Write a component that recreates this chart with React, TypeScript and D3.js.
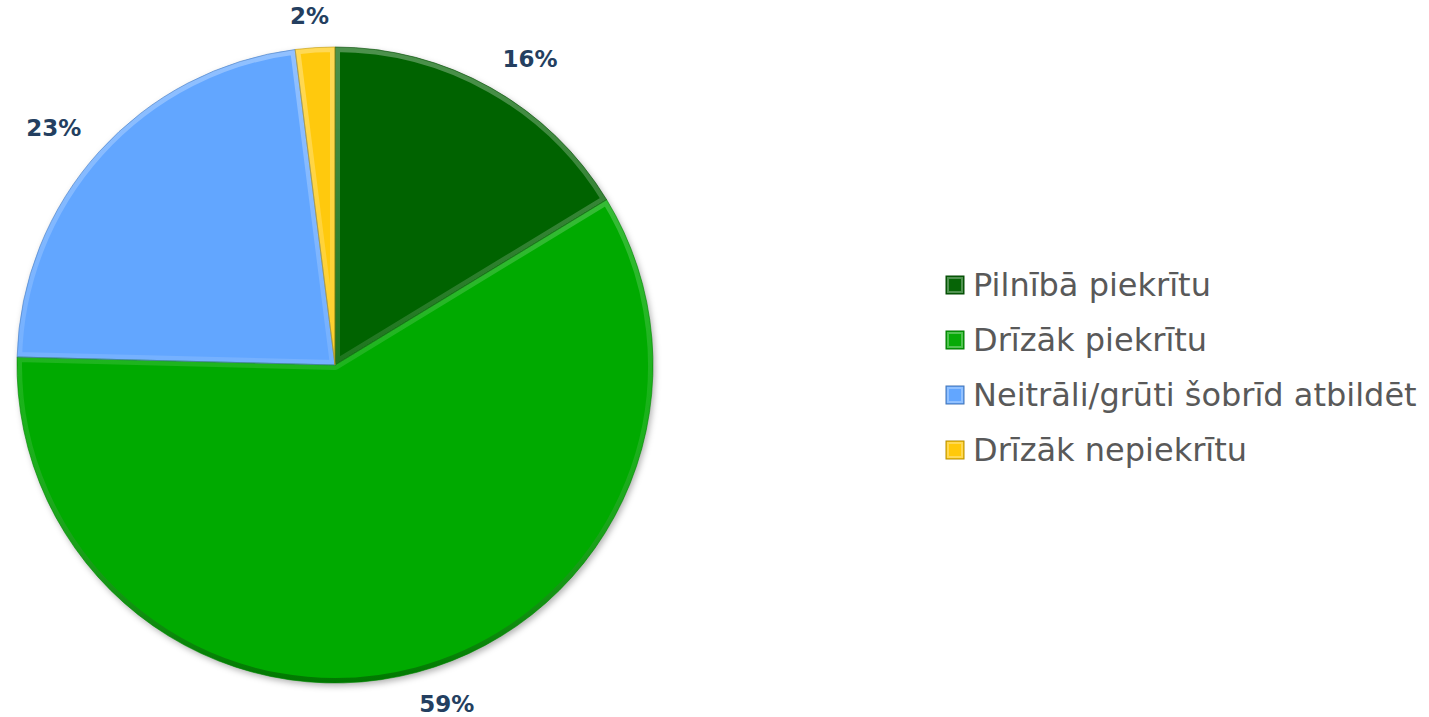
import React, { useEffect, useRef } from 'react';
import * as d3 from 'd3';

const categories = ['Pilnībā piekrītu', 'Drīzāk piekrītu', 'Neitrāli/grūti šobrīd atbildēt', 'Drīzāk nepiekrītu'];
const values = [16.3, 59.1, 22.6, 2.0];
const colors = ['#066406', '#06AA06', '#62A6FF', '#FFC90A'];

export default function App() {
  const svgRef = useRef<SVGSVGElement>(null);

  useEffect(() => {
    const svg = d3.select(svgRef.current);
    svg.selectAll('*').remove();

    const width = 1429;
    const height = 717;
    const cx = 335;
    const cy = 365;
    const radius = 318;

    svg.attr('viewBox', `0 0 ${width} ${height}`);

    const data = values.map((v, i) => ({ name: categories[i], value: v, color: colors[i] }));
    const pie = d3.pie<any>().sort(null).value(d => d.value);
    const arcs = pie(data);
    const arc = d3.arc<any>().innerRadius(0).outerRadius(radius);

    const defs = svg.append('defs');
    const shadow = defs.append('filter').attr('id', 'shadow')
      .attr('x', '-10%').attr('y', '-10%').attr('width', '120%').attr('height', '120%');
    shadow.append('feDropShadow').attr('dx', 2).attr('dy', 3).attr('stdDeviation', 3)
      .attr('flood-color', '#000').attr('flood-opacity', 0.3);

    // bevel gradient: light on top, dark at bottom
    const grad = defs.append('linearGradient').attr('id', 'bevel')
      .attr('gradientUnits', 'userSpaceOnUse')
      .attr('x1', 0).attr('y1', -radius).attr('x2', 0).attr('y2', radius);
    grad.append('stop').attr('offset', '0%').attr('stop-color', '#fff').attr('stop-opacity', 0.3);
    grad.append('stop').attr('offset', '55%').attr('stop-color', '#fff').attr('stop-opacity', 0.1);
    grad.append('stop').attr('offset', '100%').attr('stop-color', '#000').attr('stop-opacity', 0.3);

    const g = svg.append('g').attr('transform', `translate(${cx},${cy})`);
    const slices = g.append('g').attr('filter', 'url(#shadow)');

    arcs.forEach((a, i) => {
      defs.append('clipPath').attr('id', `clip${i}`)
        .append('path').attr('d', arc(a) as string);
      slices.append('path').attr('d', arc(a) as string).attr('fill', a.data.color);
    });

    arcs.forEach((a, i) => {
      g.append('path')
        .attr('d', arc(a) as string)
        .attr('fill', 'none')
        .attr('stroke', 'url(#bevel)')
        .attr('stroke-width', 10)
        .attr('stroke-linejoin', 'round')
        .attr('clip-path', `url(#clip${i})`);
      g.append('path')
        .attr('d', arc(a) as string)
        .attr('fill', 'none')
        .attr('stroke', d3.color(a.data.color)!.darker(0.8).toString())
        .attr('stroke-opacity', 0.6)
        .attr('stroke-width', 1);
    });

    // data labels: nearest corner of the label touches a point just outside the edge
    const total = d3.sum(values);
    const labelR = radius + 24;
    const fontSize = 23;
    const capH = fontSize * 0.73;
    const clamp = (v: number) => Math.max(-1, Math.min(1, v));
    arcs.forEach(a => {
      const mid = (a.startAngle + a.endAngle) / 2;
      const t = g.append('text')
        .attr('text-anchor', 'middle')
        .attr('font-family', 'DejaVu Sans, Verdana, sans-serif')
        .attr('font-weight', 'bold')
        .attr('font-size', fontSize)
        .attr('fill', '#243F60')
        .text(`${Math.round((a.data.value / total) * 100)}%`);
      const w = (t.node() as SVGTextElement).getComputedTextLength();
      const sx = Math.sin(mid);
      const sy = -Math.cos(mid);
      const lx = sx * labelR + (w / 2) * clamp(sx / 0.3);
      const ly = sy * labelR + (capH / 2) * clamp(sy / 0.3);
      t.attr('x', lx).attr('y', ly + capH / 2);
    });

    // legend
    const legend = svg.append('g').attr('transform', 'translate(946,0)');
    const rowY = d3.scaleLinear().domain([0, 1]).range([285, 340]);
    data.forEach((d, i) => {
      const row = legend.append('g').attr('transform', `translate(0,${rowY(i)})`);
      row.append('rect')
        .attr('x', 0).attr('y', -9).attr('width', 18).attr('height', 18)
        .attr('fill', d.color)
        .attr('stroke', d3.color(d.color)!.darker(1).toString())
        .attr('stroke-width', 1);
      row.append('rect')
        .attr('x', 2).attr('y', -7).attr('width', 14).attr('height', 14)
        .attr('fill', 'none')
        .attr('stroke', '#fff').attr('stroke-opacity', 0.3).attr('stroke-width', 2);
      row.append('text')
        .attr('x', 27)
        .attr('y', 0)
        .attr('dy', '0.35em')
        .attr('font-family', 'DejaVu Sans, Verdana, sans-serif')
        .attr('font-size', 32)
        .attr('fill', '#595959')
        .text(d.name);
    });
  }, []);

  return (
    <svg ref={svgRef} width={1429} height={717}
      style={{ position: 'absolute', left: 0, top: 0, background: '#fff' }} />
  );
}
